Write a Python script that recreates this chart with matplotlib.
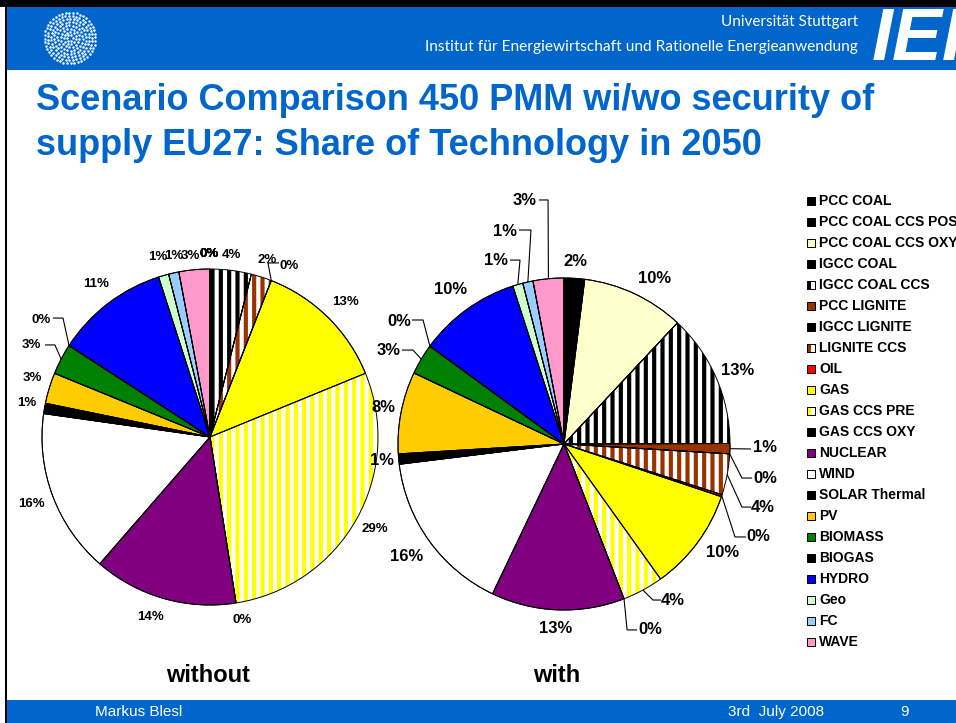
import numpy as np
import matplotlib
matplotlib.use("Agg")
import matplotlib.pyplot as plt
from matplotlib.patches import Rectangle

# ---------------------------------------------------------------- data
technologies = ["PCC COAL", "PCC COAL CCS POST", "PCC COAL CCS OXY", "IGCC COAL",
                "IGCC COAL CCS", "PCC LIGNITE", "IGCC LIGNITE", "LIGNITE CCS", "OIL",
                "GAS", "GAS CCS PRE", "GAS CCS OXY", "NUCLEAR", "WIND", "SOLAR Thermal",
                "PV", "BIOMASS", "BIOGAS", "HYDRO", "Geo", "FC", "WAVE"]

# share of technology in 2050 (%), scenario without / with security of supply
share_without = [0, 0, 0, 0, 4, 0, 0, 2, 0, 13, 29, 0, 14, 16, 1, 3, 3, 0, 11, 1, 1, 3]
share_with = [0, 2, 10, 0, 13, 1, 0, 4, 0.2, 10, 4, 0, 13, 16, 1, 8, 3, 0, 10, 1, 1, 3]

scenario_names = ["without", "with"]

# ---------------------------------------------------------------- style
tech_colors = ["#000000", "#000000", "#FFFFCC", "#000000", "#000000", "#993300",
               "#000000", "#993300", "#FF0000", "#FFFF00", "#FFFF00", "#000000",
               "#800080", "#FFFFFF", "#000000", "#FFCC00", "#008000", "#000000",
               "#0000FF", "#CCFFCC", "#99CCFF", "#FF99CC"]
striped = {"IGCC COAL CCS", "LIGNITE CCS", "GAS CCS PRE"}

BLUE = "#0066CC"
W, H = 956, 723

plt.rcParams["hatch.linewidth"] = 3.0
plt.rcParams["font.family"] = ["Liberation Sans", "DejaVu Sans"]

fig = plt.figure(figsize=(W / 100, H / 100), dpi=100, facecolor="white")
ax = fig.add_axes([0, 0, 1, 1])


def Y(y_px):
    """Convert a top-down pixel row into the axes' bottom-up coordinate."""
    return H - y_px


# label layout per slice: (x, y) in pie radii from the centre, optional leader elbows
layout_without = {
    0: ((-0.006, 1.089), None), 1: ((-0.006, 1.089), None),
    2: ((-0.006, 1.089), None), 3: ((-0.006, 1.089), None),
    4: ((0.125, 1.083), None),
    7: ((0.339, 1.054), None),
    8: ((0.470, 1.018), [(0.345, 1.036), (0.411, 1.036)]),
    9: ((0.804, 0.804), None),
    10: ((0.982, -0.548), None),
    11: ((0.190, -1.089), None),
    12: ((-0.357, -1.071), None),
    13: ((-1.060, -0.399), None),
    14: ((-1.089, 0.202), None),
    15: ((-1.060, 0.351), None),
    16: ((-1.065, 0.548), [(-0.923, 0.548), (-0.982, 0.548)]),
    17: ((-1.006, 0.696), [(-0.875, 0.708), (-0.935, 0.708)]),
    18: ((-0.679, 0.911), None),
    19: ((-0.310, 1.071), None),
    20: ((-0.214, 1.077), None),
    21: ((-0.119, 1.077), None),
}
layout_with = {
    1: ((0.066, 1.102), None),
    2: ((0.548, 0.994), None),
    4: ((1.048, 0.440), None),
    5: ((1.211, -0.024), [(1.127, -0.030)]),
    6: ((1.211, -0.205), [(1.072, -0.205), (1.133, -0.205)]),
    7: ((1.199, -0.380), [(1.072, -0.380), (1.127, -0.380)]),
    8: ((1.169, -0.560), [(1.030, -0.560), (1.096, -0.560)]),
    9: ((0.958, -0.651), None),
    10: ((0.657, -0.940), [(0.536, -0.940), (0.584, -0.940)]),
    11: ((0.518, -1.120), [(0.380, -1.120), (0.440, -1.120)]),
    12: ((-0.048, -1.114), None),
    13: ((-0.946, -0.675), None),
    14: ((-1.096, -0.102), None),
    15: ((-1.090, 0.217), None),
    16: ((-1.054, 0.566), [(-0.910, 0.566), (-0.976, 0.566)]),
    17: ((-0.994, 0.735), [(-0.849, 0.747), (-0.916, 0.747)]),
    18: ((-0.681, 0.928), None),
    19: ((-0.410, 1.108), [(-0.265, 1.108), (-0.325, 1.108)]),
    20: ((-0.355, 1.283), [(-0.199, 1.289), (-0.271, 1.289)]),
    21: ((-0.235, 1.464), [(-0.096, 1.470), (-0.151, 1.470)]),
}

pies = [
    dict(values=share_without, center=(210, Y(437)), radius=168, layout=layout_without,
         fontsize=9.5, title_x=208),
    dict(values=share_with, center=(564, Y(444)), radius=166, layout=layout_with,
         fontsize=12, title_x=557),
]

for name, p in zip(scenario_names, pies):
    vals = p["values"]
    cx, cy = p["center"]
    r = p["radius"]
    wedges, _ = ax.pie(vals, colors=tech_colors, startangle=90, counterclock=False,
                       center=(cx, cy), radius=r, normalize=True,
                       wedgeprops=dict(edgecolor="black", linewidth=0.7))
    for w, tech, col in zip(wedges, technologies, tech_colors):
        if tech in striped:
            w.set_facecolor("white")
            w.set_edgecolor(col)
            w.set_hatch("||")
            w.set_linewidth(0)
    # black outlines over the striped fills
    ax.pie(vals, startangle=90, counterclock=False, center=(cx, cy), radius=r,
           normalize=True,
           wedgeprops=dict(fill=False, edgecolor="black", linewidth=0.7))

    total = float(np.sum(vals))
    cum = np.concatenate([[0], np.cumsum(vals)]) / total
    for i, ((lx, ly), leader) in p["layout"].items():
        mid = 0.5 * (cum[i] + cum[i + 1]) * 2 * np.pi
        ex, ey = np.sin(mid), np.cos(mid)
        if leader:
            xs = [cx + ex * r] + [cx + px * r for px, _ in leader]
            ys = [cy + ey * r] + [cy + py * r for _, py in leader]
            ax.plot(xs, ys, color="black", lw=0.8, solid_capstyle="butt", zorder=4)
        ax.text(cx + lx * r, cy + ly * r, f"{vals[i]:.0f}%", ha="center", va="center",
                fontsize=p["fontsize"], fontweight="bold", color="black", zorder=5)
    ax.text(p["title_x"], Y(675), name, ha="center", va="center", fontsize=17,
            fontweight="bold", color="black")

ax.set_xlim(0, W)
ax.set_ylim(0, H)
ax.set_aspect("auto")
ax.axis("off")

# ---------------------------------------------------------------- legend
for k, (tech, col) in enumerate(zip(technologies, tech_colors)):
    yc = Y(201 + 21 * k)
    if tech in striped:
        ax.add_patch(Rectangle((807, yc - 4), 8, 8, facecolor="white",
                               edgecolor="black", lw=0.7, zorder=5))
        ax.add_patch(Rectangle((807, yc - 4), 4, 8, facecolor=col,
                               edgecolor="none", zorder=5))
        ax.add_patch(Rectangle((807, yc - 4), 8, 8, facecolor="none",
                               edgecolor="black", lw=0.7, zorder=6))
    else:
        ax.add_patch(Rectangle((807, yc - 4), 8, 8, facecolor=col,
                               edgecolor="black", lw=0.7, zorder=5))
    ax.text(819, yc, tech, ha="left", va="center", fontsize=10, fontweight="bold",
            color="black")

# ---------------------------------------------------------------- slide frame
ax.add_patch(Rectangle((0, Y(7)), W, 7, facecolor="black", edgecolor="none", zorder=1))
ax.add_patch(Rectangle((7, Y(70)), W - 7, 63, facecolor=BLUE, edgecolor="none", zorder=1))
ax.add_patch(Rectangle((5, 0), 2.5, H, facecolor="black", edgecolor="none", zorder=1))
ax.add_patch(Rectangle((7, 0), W - 7, 23, facecolor=BLUE, edgecolor="none", zorder=1))

# university seal: concentric rings of white dots
ring_r = np.arange(3.0, 25.5, 3.2)
dx, dy = [], []
for j, rr in enumerate(ring_r):
    n = max(6, int(round(2 * np.pi * rr / 3.6)))
    t = np.linspace(0, 2 * np.pi, n, endpoint=False) + j * 0.35
    dx.extend(70 + rr * np.cos(t))
    dy.extend(Y(38) + rr * np.sin(t))
ax.scatter(dx, dy, s=3.2, color="white", linewidths=0, zorder=2)

ax.text(858, Y(22), "Universität Stuttgart", ha="right", va="center", fontsize=11,
        color="white", family=["Lato", "DejaVu Sans"], zorder=3)
ax.text(858, Y(47), "Institut für Energiewirtschaft und Rationelle Energieanwendung",
        ha="right", va="center", fontsize=11.2, color="white",
        family=["Lato", "DejaVu Sans"], zorder=3)
ax.text(872, Y(41), "IER", ha="left", va="center", fontsize=54, fontweight="bold",
        fontstyle="italic", color="white", zorder=3)

ax.text(36, Y(110), "Scenario Comparison 450 PMM wi/wo security of", ha="left",
        va="baseline", fontsize=26, fontweight="bold", color=BLUE)
ax.text(36, Y(155), "supply EU27: Share of Technology in 2050", ha="left",
        va="baseline", fontsize=26, fontweight="bold", color=BLUE)

ax.text(95, Y(712), "Markus Blesl", ha="left", va="center", fontsize=11,
        color="white", family=["Liberation Sans Narrow", "Liberation Sans"], zorder=3)
ax.text(728, Y(712), "3rd  July 2008", ha="left", va="center", fontsize=11,
        color="white", family=["Liberation Sans Narrow", "Liberation Sans"], zorder=3)
ax.text(905, Y(712), "9", ha="center", va="center", fontsize=11,
        color="white", family=["Liberation Sans Narrow", "Liberation Sans"], zorder=3)

fig.savefig("out.png", dpi=100, facecolor="white")
